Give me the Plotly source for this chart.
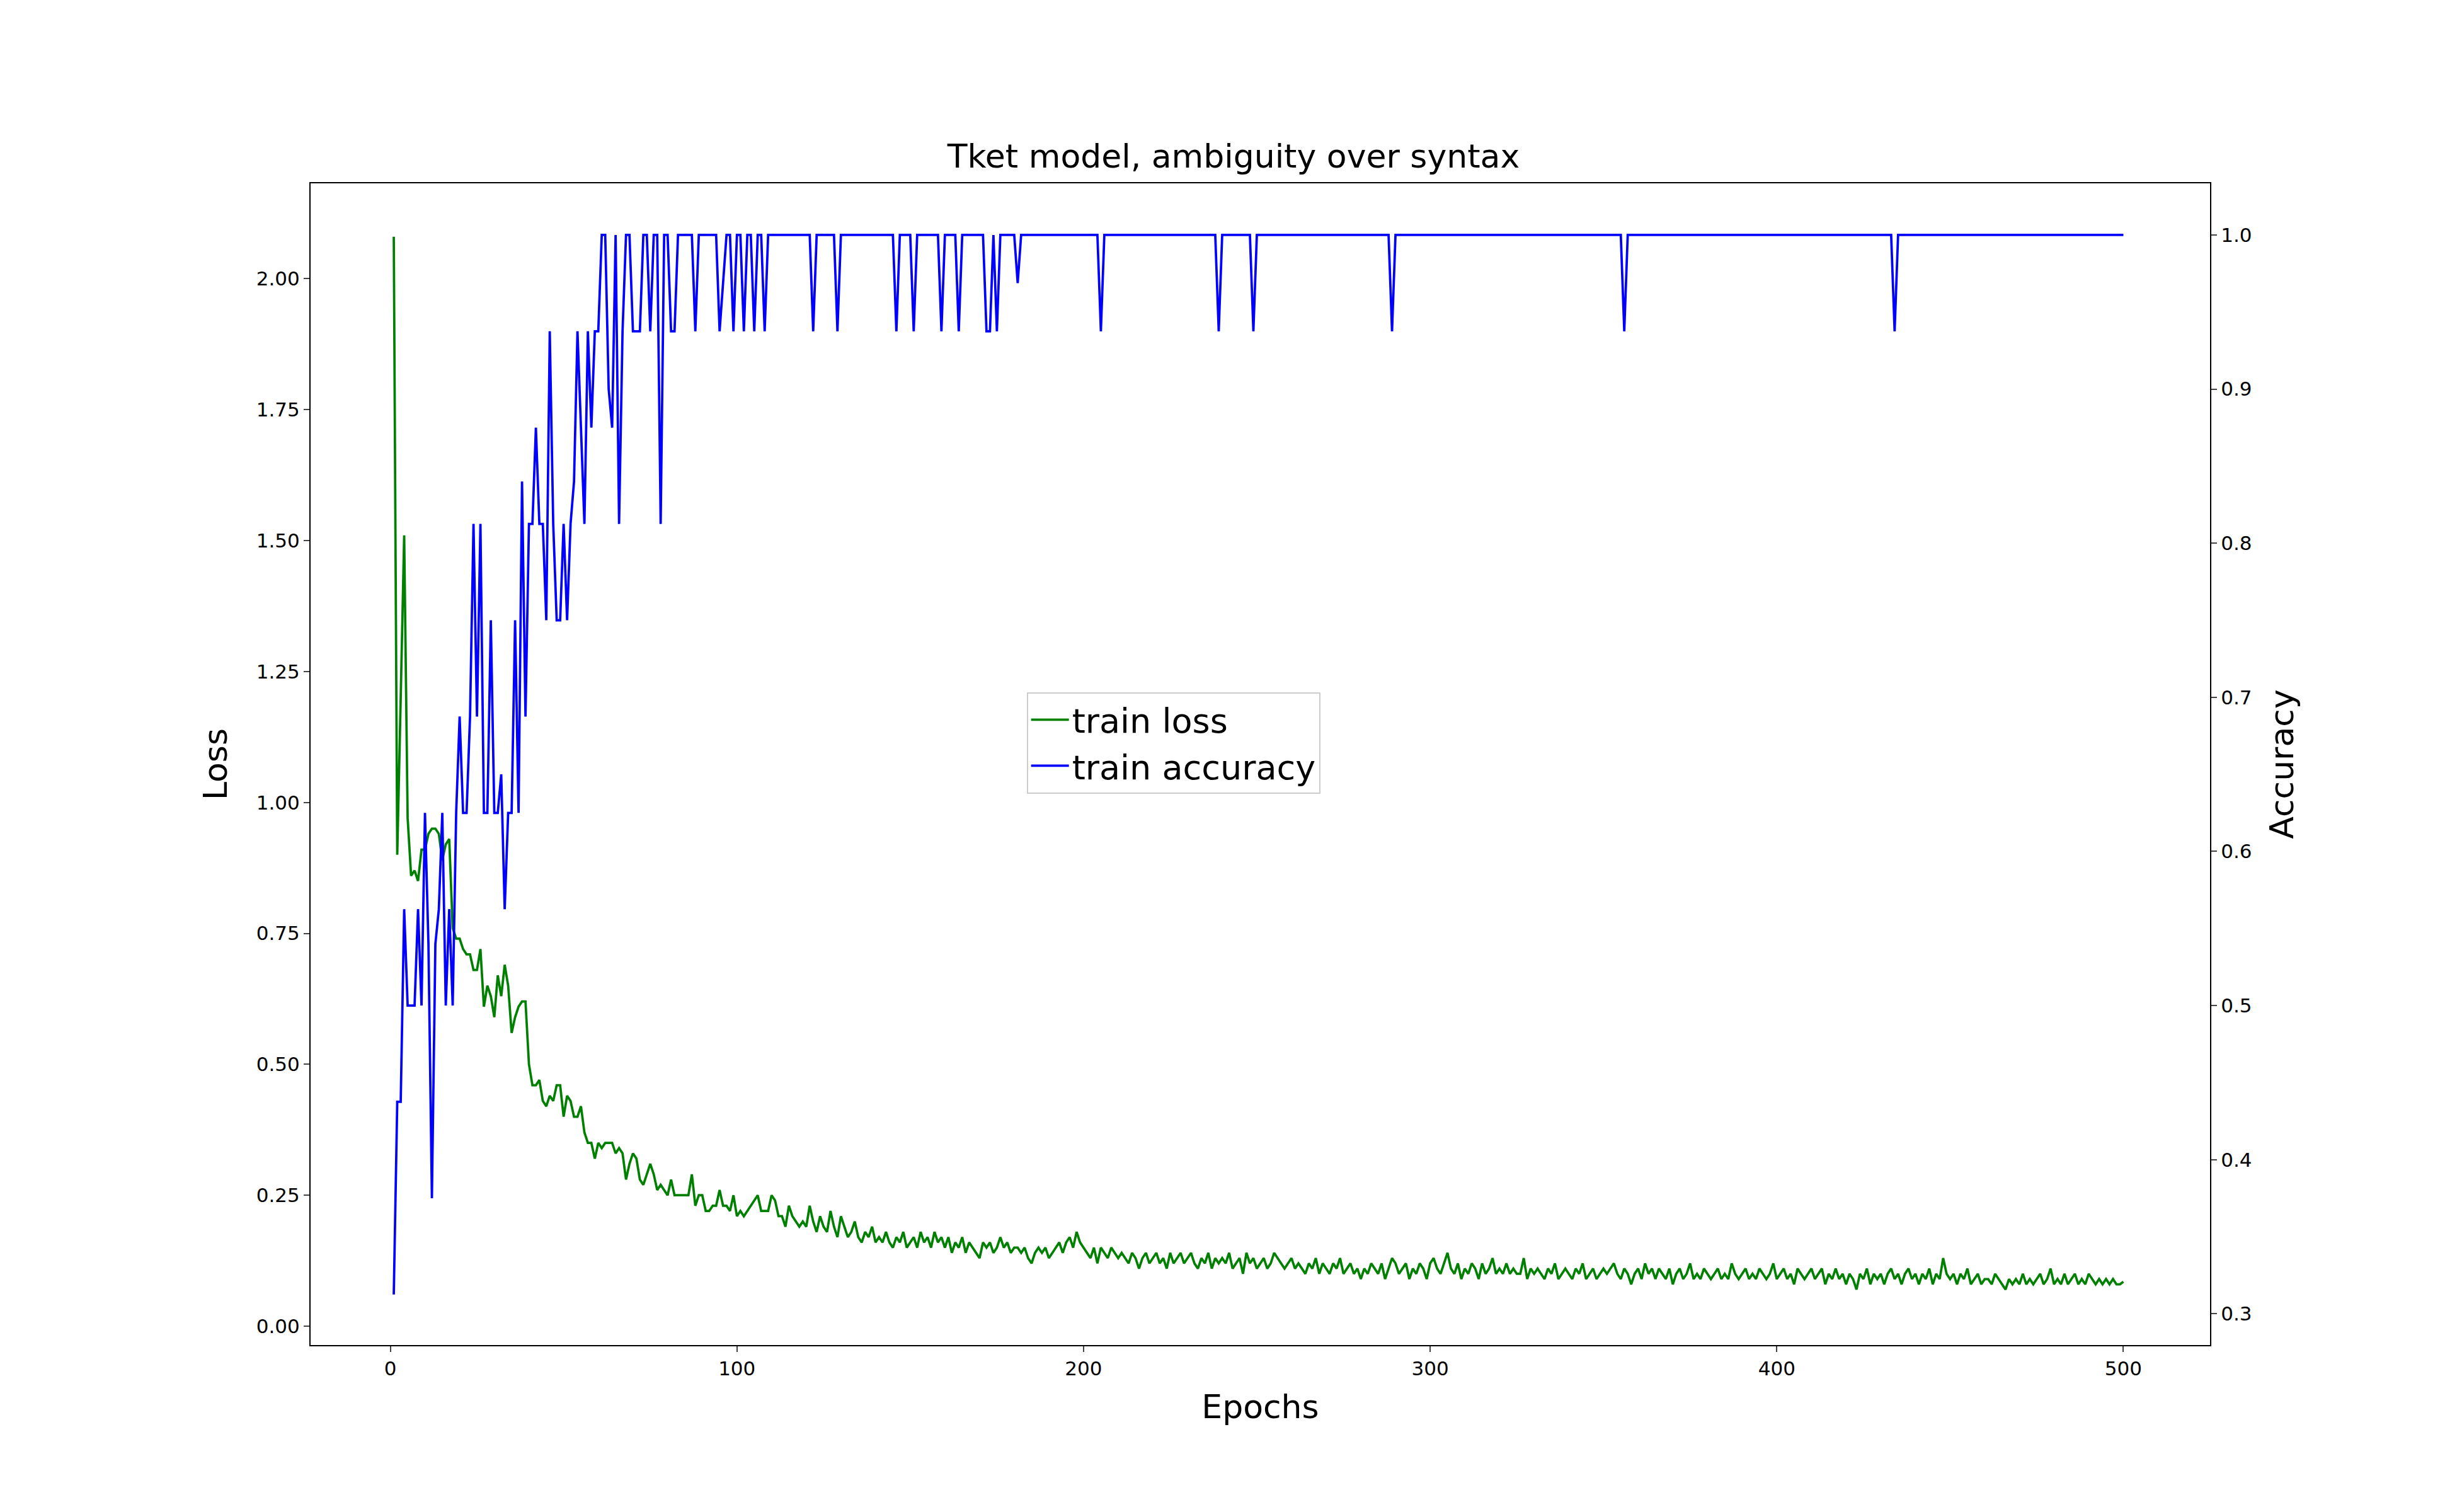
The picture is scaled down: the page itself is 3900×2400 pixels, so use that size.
import plotly.graph_objects as go

# accuracy, epochs 1..121 (read individually)
acc_early = [0.3125,0.4375,0.4375,0.5625,0.5,0.5,0.5,0.5625,0.5,0.625,
             0.54,0.375,0.54,0.5625,0.625,0.5,0.5625,0.5,0.625,0.6875,
             0.625,0.625,0.6875,0.8125,0.6875,0.8125,0.625,0.625,0.75,0.625,
             0.625,0.65,0.5625,0.625,0.625,0.75,0.625,0.84,0.6875,0.8125,
             0.8125,0.875,0.8125,0.8125,0.75,0.9375,0.8125,0.75,0.75,0.8125,
             0.75,0.8125,0.84,0.9375,0.875,0.8125,0.9375,0.875,0.9375,0.9375,
             1.0,1.0,0.9,0.875,1.0,0.8125,0.9375,1.0,1.0,0.9375,
             0.9375,0.9375,1.0,1.0,0.9375,1.0,1.0,0.8125,1.0,1.0,
             0.9375,0.9375,1.0,1.0,1.0,1.0,1.0,0.9375,1.0,1.0,
             1.0,1.0,1.0,1.0,0.9375,0.97,1.0,1.0,0.9375,1.0,
             1.0,0.9375,1.0,1.0,0.9375,1.0,1.0,0.9375,1.0,1.0,
             1.0,1.0,1.0,1.0,1.0,1.0,1.0,1.0,1.0,1.0,1.0]
# later accuracy: 1.0 except these dips (epoch -> value)
acc_dip_epochs = [122,129,146,151,159,164,172,173,175,181,205,239,249,289,356,434]
acc_dip_values = [0.9375,0.9375,0.9375,0.9375,0.9375,0.9375,0.9375,0.9375,0.9375,0.96875,
                  0.9375,0.9375,0.9375,0.9375,0.9375,0.9375]

loss = [2.08,0.90,1.20,1.51,0.97,0.86,0.87,0.85,0.91,0.91,
        0.94,0.95,0.95,0.94,0.89,0.92,0.93,0.76,0.74,0.74,
        0.72,0.71,0.71,0.68,0.68,0.72,0.61,0.65,0.63,0.59,
        0.67,0.63,0.69,0.65,0.56,0.59,0.61,0.62,0.62,0.50,
        0.46,0.46,0.47,0.43,0.42,0.44,0.43,0.46,0.46,0.40,
        0.44,0.43,0.40,0.40,0.42,0.37,0.35,0.35,0.32,0.35,
        0.34,0.35,0.35,0.35,0.33,0.34,0.33,0.28,0.31,0.33,
        0.32,0.28,0.27,0.29,0.31,0.29,0.26,0.27,0.26,0.25,
        0.28,0.25,0.25,0.25,0.25,0.25,0.29,0.23,0.25,0.25,
        0.22,0.22,0.23,0.23,0.26,0.23,0.23,0.22,0.25,0.21,
        0.22,0.21,0.22,0.23,0.24,0.25,0.22,0.22,0.22,0.25,
        0.24,0.21,0.21,0.19,0.23,0.21,0.20,0.19,0.20,0.19,
        0.23,
        0.20,0.18,0.21,0.19,0.18,0.22,0.19,0.17,0.21,
        0.19,0.17,0.18,0.20,0.17,0.16,0.18,0.17,0.19,0.16,
        0.17,0.16,0.18,0.16,0.15,0.17,0.16,0.18,0.15,0.16,
        0.17,0.15,0.18,0.16,0.17,0.15,0.18,0.16,0.17,0.15,
        0.17,0.14,0.16,0.15,0.17,0.14,0.16,0.15,0.14,0.13,
        0.16,0.15,0.16,0.14,0.15,0.17,0.15,0.16,0.14,0.15,
        0.15,0.14,0.15,0.13,0.12,0.14,0.15,0.14,0.15,0.13,
        0.14,0.15,0.16,0.14,0.16,0.17,0.15,0.18,0.16,0.15,
        0.14,0.13,0.15,0.12,0.15,0.14,0.13,0.15,0.14,0.13,
        0.14,0.13,0.12,0.14,0.13,0.11,0.13,0.14,0.12,0.13,
        0.14,0.12,0.13,0.11,0.14,0.12,0.13,0.14,0.12,0.13,
        0.14,0.12,0.11,0.13,0.12,0.14,0.11,0.13,0.12,0.13,
        0.12,0.14,0.11,0.12,0.13,0.10,0.14,0.12,0.13,0.11,
        0.12,0.13,0.11,0.12,0.14,0.13,0.12,0.11,0.12,0.13,
        0.11,0.12,0.11,0.10,0.12,0.11,0.13,0.10,0.12,0.11,
        0.10,0.12,0.11,0.13,0.10,0.11,0.12,0.10,0.11,0.09,
        0.11,0.10,0.12,0.11,0.10,0.12,0.09,0.11,0.13,0.12,
        0.10,0.11,0.12,0.09,0.11,0.10,0.12,0.11,0.09,0.12,
        0.13,0.11,0.10,0.12,0.14,0.11,0.10,0.12,0.09,0.11,
        0.10,0.12,0.11,0.09,0.12,0.10,0.11,0.13,0.10,0.11,
        0.10,0.12,0.10,0.11,0.10,0.10,0.13,0.09,0.11,0.10,
        0.11,0.10,0.09,0.11,0.10,0.12,0.09,0.10,0.11,0.10,
        0.09,0.11,0.10,0.12,0.09,0.10,0.11,0.09,0.10,0.11,
        0.10,0.11,0.12,0.10,0.09,0.11,0.10,0.08,0.10,0.11,
        0.09,0.12,0.10,0.11,0.09,0.11,0.10,0.09,0.11,0.08,
        0.10,0.11,0.09,0.10,0.12,0.09,0.10,0.09,0.11,0.10,
        0.09,0.10,0.11,0.09,0.10,0.09,0.12,0.10,0.09,0.10,
        0.11,0.09,0.10,0.09,0.11,0.10,0.09,0.10,0.12,0.09,
        0.10,0.11,0.09,0.10,0.08,0.11,0.10,0.09,0.10,0.11,
        0.09,0.10,0.11,0.08,0.10,0.09,0.11,0.09,0.10,0.08,
        0.10,0.09,0.07,0.10,0.09,0.11,0.08,0.10,0.09,0.10,
        0.08,0.10,0.11,0.09,0.10,0.08,0.10,0.11,0.09,0.10,
        0.08,0.10,0.09,0.11,0.08,0.10,0.09,0.13,0.10,0.09,
        0.10,0.08,0.10,0.09,0.11,0.08,0.09,0.10,0.08,0.09,
        0.09,0.08,0.10,0.09,0.08,0.07,0.09,0.08,0.09,0.08,
        0.10,0.08,0.09,0.08,0.09,0.10,0.08,0.09,0.11,0.08,
        0.09,0.08,0.10,0.08,0.09,0.10,0.08,0.09,0.08,0.10,
        0.09,0.08,0.09,0.08,0.09,0.08,0.09,0.08,0.08,0.085]

epochs = list(range(1, len(loss) + 1))
acc = list(acc_early) + [1.0] * (len(loss) - len(acc_early))
for e, v in zip(acc_dip_epochs, acc_dip_values):
    acc[e - 1] = v

font = "DejaVu Sans"
fig = go.Figure()
fig.add_trace(go.Scatter(x=epochs, y=loss, mode="lines", name="train loss",
                         line=dict(color="green", width=3.75)))
fig.add_trace(go.Scatter(x=epochs, y=acc, mode="lines", name="train accuracy",
                         yaxis="y2", line=dict(color="blue", width=3.75)))

axcommon = dict(showgrid=False, zeroline=False, showline=True, linecolor="black",
                linewidth=2, ticks="outside", ticklen=9, tickwidth=2,
                tickfont=dict(family=font, size=31, color="black"))
fig.update_layout(
    width=3900, height=2400, plot_bgcolor="white", paper_bgcolor="white",
    margin=dict(l=485, r=400, t=283, b=273, autoexpand=False),
    title=dict(text="Tket model, ambiguity over syntax", x=0.5, xanchor="center",
               y=1 - 240 / 2400, yanchor="middle",
               font=dict(family=font, size=52, color="black")),
    xaxis=dict(range=[-23, 525], tickvals=[0, 100, 200, 300, 400, 500], mirror=True,
               title=dict(text="Epochs", font=dict(family=font, size=52, color="black"), standoff=25),
               **axcommon),
    yaxis=dict(range=[-0.036, 2.182], tickvals=[0, 0.25, 0.5, 0.75, 1.0, 1.25, 1.5, 1.75, 2.0],
               tickformat=".2f",
               title=dict(text="Loss", font=dict(family=font, size=52, color="black"), standoff=30),
               **axcommon),
    yaxis2=dict(range=[0.2797, 1.0335], overlaying="y", side="right",
                tickvals=[0.3, 0.4, 0.5, 0.6, 0.7, 0.8, 0.9, 1.0], tickformat=".1f",
                title=dict(text="Accuracy", font=dict(family=font, size=52, color="black"), standoff=30),
                **axcommon),
    legend=dict(x=0.377, y=0.562, xanchor="left", yanchor="top",
                bgcolor="white", bordercolor="#cccccc", borderwidth=2,
                itemwidth=60, font=dict(family=font, size=54, color="black")),
    showlegend=True,
)
fig.write_html("out.html")
